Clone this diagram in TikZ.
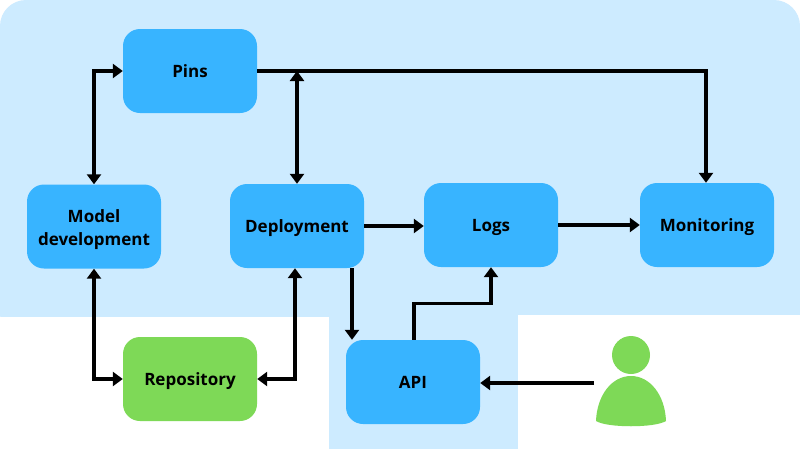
\documentclass[tikz,border=0pt]{standalone}
\usepackage{fontspec}
\setmainfont{Open Sans}
\usetikzlibrary{arrows.meta,calc}
\definecolor{panel}{HTML}{CDEBFF}
\definecolor{boxblue}{HTML}{38B4FF}
\definecolor{boxgreen}{HTML}{7ED957}
\tikzset{
  box/.style={draw=none,fill=boxblue,rounded corners=17pt,minimum width=134pt,minimum height=84pt,inner sep=0pt,align=center,font=\fontsize{17pt}{23pt}\selectfont\bfseries,text=black,
    execute at begin node={\rule{0pt}{17pt}},execute at end node={\rule[-5pt]{0pt}{5pt}}},
  greenbox/.style={box,fill=boxgreen},
  conn/.style={line width=4pt,draw=black,-{Triangle[width=14pt,length=10pt]}},
  biconn/.style={line width=4pt,draw=black,{Triangle[width=14pt,length=10pt]}-{Triangle[width=14pt,length=10pt]}},
  thinconn/.style={conn,line width=3.4pt},
}
\begin{document}
\begin{tikzpicture}[x=1pt,y=-1pt]
\useasboundingbox (0,0) rectangle (800,450);
\fill[white] (0,0) rectangle (800,450);
% panels
\fill[panel,rounded corners=26pt] (0,340) -- (0,0) -- (800,0) -- (800,340) -- cycle;
\fill[white] (0,317) rectangle (329,450);
\fill[panel] (329,316) rectangle (518,449);
\fill[white] (518,314.5) rectangle (800,450);
% boxes
\node[box] (pins) at (190,71) {Pins};
\node[box] (model) at (94,226.5) {\rule{0pt}{20pt}Model\\development};
\node[box] (dep) at (297,226) {Deployment};
\node[box] (logs) at (491,225) {Logs};
\node[box] (mon) at (707,225) {Monitoring};
\node[greenbox] (repo) at (190,379) {Repository};
\node[box] (api) at (413,382) {API};
% user
\node[circle,fill=boxgreen,minimum size=38pt,inner sep=0pt] (head) at (631,355) {};
\fill[boxgreen] (596,421) .. controls (597,395) and (612,376) .. (631,376) .. controls (650,376) and (665,395) .. (666,421) .. controls (655,428) and (607,428) .. (596,421) -- cycle;
\coordinate (userport) at (594,383);
% connectors
\draw[biconn] (model.north) |- (pins.west);
\draw[biconn] (model.south) |- (repo.west);
\draw[biconn] ([xshift=-2pt]dep.south) |- (repo.east);
\draw[conn] (pins.east) -| ([xshift=-1pt]mon.north);
\draw[biconn] (dep.north) -- (dep.north |- pins.east);
\draw[conn] (dep.east) -- (logs.west |- dep.east);
\draw[conn] (logs.east) -- (mon.west);
\draw[conn] ([xshift=55pt]dep.south) -- ([xshift=55pt]dep.south |- api.north);
\draw[thinconn] ([xshift=1pt]api.north) |- ($(api.north)!0.5!(logs.south)+(0,0)$) -| (logs.south);
\draw[conn] (userport) -- (api.east |- userport);
\end{tikzpicture}
\end{document}
